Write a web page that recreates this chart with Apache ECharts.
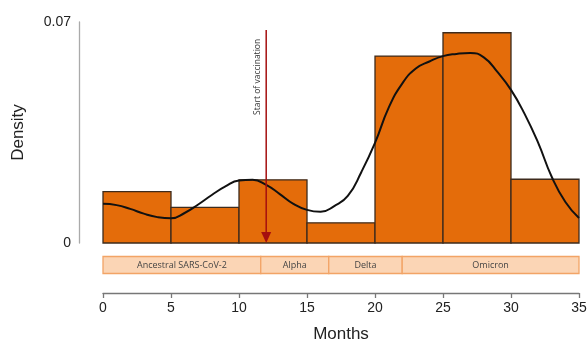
<!DOCTYPE html>
<html>
<head>
<meta charset="utf-8">
<script src="https://cdn.jsdelivr.net/npm/echarts@6/dist/echarts.min.js"></script>
<style>html,body{margin:0;padding:0;background:#fff}#c{width:587px;height:344px}</style>
</head>
<body>
<div id="c"></div>
<script>
// Histogram bins (months) and densities
const binStarts = [0, 5, 10, 15, 20, 25, 30];
const binEnds = [5, 10, 15, 20, 25, 30, 35];
const binDensity = [0.0163, 0.0113, 0.0200, 0.0064, 0.0592, 0.0666, 0.0202];

// Kernel density curve
const curveMonths = [0, 1, 2, 3, 4, 5, 6, 7, 8, 9, 10, 11, 12, 13, 14, 15, 16, 17, 18, 19, 20, 21, 22, 23, 24, 25, 26, 27, 28, 29, 30, 31, 32, 33, 34, 35];
const curveDensity = [0.0124, 0.0120, 0.0108, 0.0093, 0.0082, 0.0078, 0.0095, 0.0122, 0.0152, 0.0179, 0.0198, 0.0200, 0.0184, 0.0155, 0.0124, 0.0105, 0.0099, 0.0117, 0.0149, 0.0225, 0.0317, 0.0428, 0.0505, 0.0553, 0.0575, 0.0592, 0.0599, 0.0602, 0.0588, 0.0542, 0.0485, 0.0409, 0.0317, 0.0209, 0.0130, 0.0079];

// Variant periods
const variantNames = ['Ancestral SARS-CoV-2', 'Alpha', 'Delta', 'Omicron'];
const variantStart = [0, 11.6, 16.6, 22];
const variantEnd = [11.6, 16.6, 22, 35];

// Vaccination marker
const vaccinationMonth = 12;
const vaccinationTop = 0.0675;
const vaccinationLabel = 'Start of vaccination';

// Axis ticks
const xMin = 0, xMax = 35, xStep = 5;
const yMin = 0, yMax = 0.07;

const chart = echarts.init(document.getElementById('c'), null, {renderer: 'canvas'});

const option = {
  animation: false,
  backgroundColor: '#fff',
  grid: {left: 103, right: 8, top: 22, bottom: 101, outerBoundsMode: 'none', containLabel: false},
  xAxis: {
    type: 'value', min: xMin, max: xMax, interval: xStep,
    offset: 50,
    name: 'Months', nameLocation: 'middle', nameGap: 33,
    nameTextStyle: {fontFamily: 'Liberation Sans', fontSize: 17, color: '#222'},
    axisLine: {show: true, onZero: false, lineStyle: {color: '#777', width: 1.3}},
    axisTick: {show: true, length: 5, lineStyle: {color: '#777', width: 1.3}},
    axisLabel: {fontFamily: 'Liberation Sans', fontSize: 14, color: '#222', margin: 8},
    splitLine: {show: false}
  },
  yAxis: {
    type: 'value', min: yMin, max: yMax, interval: yMax,
    offset: 24,
    name: 'Density', nameLocation: 'middle', nameGap: 52, nameRotate: 90,
    nameTextStyle: {fontFamily: 'Liberation Sans', fontSize: 17, color: '#222'},
    axisLine: {show: true, onZero: false, lineStyle: {color: '#aaa', width: 1.3}},
    axisTick: {show: false},
    axisLabel: {fontFamily: 'Liberation Sans', fontSize: 14, color: '#222', margin: 8,
      formatter: v => v === 0 ? '0' : String(v)},
    splitLine: {show: false}
  },
  series: [
    {
      type: 'custom',
      z: 2,
      data: binStarts.map((s, i) => [s, binEnds[i], binDensity[i]]),
      renderItem: function (params, api) {
        const p0 = api.coord([api.value(0), api.value(2)]);
        const p1 = api.coord([api.value(1), 0]);
        return {
          type: 'rect',
          shape: {x: p0[0], y: p0[1], width: p1[0] - p0[0], height: p1[1] - p0[1]},
          style: {fill: '#E46C0A', stroke: '#3d2b1d', lineWidth: 1.3}
        };
      }
    },
    {
      type: 'line',
      z: 3,
      smooth: 0.5,
      showSymbol: false,
      symbol: 'none',
      lineStyle: {color: '#111', width: 2},
      data: curveMonths.map((m, i) => [m, curveDensity[i]])
    },
    {
      type: 'custom',
      z: 4,
      clip: false,
      data: variantNames.map((n, i) => [variantStart[i], variantEnd[i], n]),
      renderItem: function (params, api) {
        const a = api.coord([api.value(0), 0]);
        const b = api.coord([api.value(1), 0]);
        const y0 = a[1] + 13.5, h = 17;
        return {
          type: 'group',
          children: [
            {type: 'rect', shape: {x: a[0], y: y0, width: b[0] - a[0], height: h},
              style: {fill: '#FBD5B5', stroke: '#F2A466', lineWidth: 1.3}},
            {type: 'text', style: {text: variantNames[params.dataIndex], x: (a[0] + b[0]) / 2, y: y0 + h / 2,
              align: 'center', verticalAlign: 'middle', fontFamily: 'Open Sans', fontSize: 9, fill: '#444'}}
          ]
        };
      }
    },
    {
      type: 'custom',
      z: 5,
      clip: false,
      data: [[vaccinationMonth, vaccinationTop]],
      renderItem: function (params, api) {
        const top = api.coord([api.value(0), api.value(1)]);
        const bot = api.coord([api.value(0), 0]);
        const hh = 11, hw = 5;
        return {
          type: 'group',
          children: [
            {type: 'line', shape: {x1: top[0], y1: top[1], x2: bot[0], y2: bot[1] - hh + 1},
              style: {stroke: '#A50F0F', lineWidth: 1.5}},
            {type: 'polygon', shape: {points: [[bot[0] - hw, bot[1] - hh], [bot[0] + hw, bot[1] - hh], [bot[0], bot[1]]]},
              style: {fill: '#A50F0F'}},
            {type: 'text', x: top[0] - 9, y: top[1] + 47, rotation: Math.PI / 2,
              style: {text: vaccinationLabel, align: 'center', verticalAlign: 'middle',
                fontFamily: 'Open Sans', fontSize: 8.5, fill: '#333'}}
          ]
        };
      }
    }
  ]
};
chart.setOption(option);
</script>
</body>
</html>
